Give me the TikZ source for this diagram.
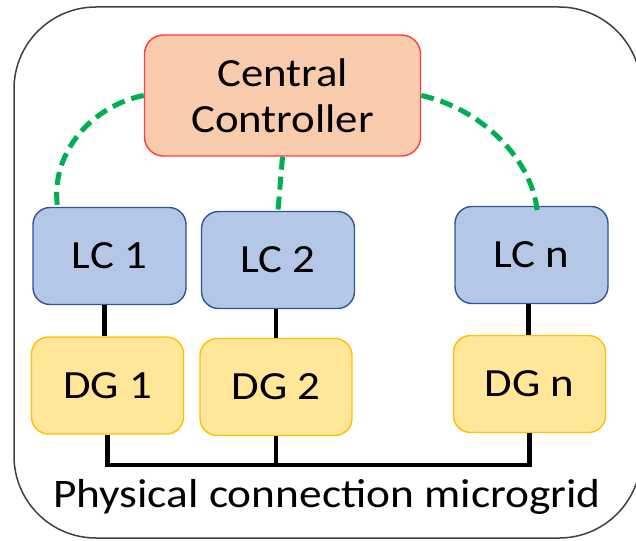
\documentclass[tikz,border=0pt]{standalone}
\usepackage{fontspec}
\setmainfont{Carlito}[FakeStretch=1.12]
\usetikzlibrary{calc}
\definecolor{ccfill}{HTML}{F8CBAD}
\definecolor{ccdraw}{HTML}{FF3B3B}
\definecolor{lcfill}{HTML}{B4C7E7}
\definecolor{lcdraw}{HTML}{2F5597}
\definecolor{dgfill}{HTML}{FFE699}
\definecolor{dgdraw}{HTML}{FFC000}
\definecolor{commgreen}{HTML}{00B050}
\begin{document}
\begin{tikzpicture}[x=1pt,y=-1pt,
  box/.style={rounded corners=17pt,line width=1.4pt,inner sep=0pt,align=center,
    font=\fontsize{40}{46}\selectfont},
  ccbox/.style={box,fill=ccfill,draw=ccdraw,minimum width=276pt,minimum height=121pt,rounded corners=19pt},
  lcbox/.style={box,fill=lcfill,draw=lcdraw,minimum width=153pt,minimum height=97pt},
  dgbox/.style={box,fill=dgfill,draw=dgdraw,minimum width=152pt,minimum height=97pt},
  comm/.style={draw=commgreen,line width=5pt,dash pattern=on 13pt off 7pt},
  wire/.style={draw=black,line width=4.5pt},
  frame/.style={draw=black!75,line width=1.5pt,rounded corners=82pt}]
\useasboundingbox (0,0) rectangle (636,540);
\draw[frame] (14,7) rectangle (641,538);
\node[ccbox] (cc) at (282.5,95.5) {Central\\Controller};
\node[lcbox] (lc1) at (109.5,256) {LC 1};
\node[lcbox] (lc2) at (278,260) {LC 2};
\node[lcbox] (lcn) at (531.5,255) {LC n};
\node[dgbox] (dg1) at (107.5,385.5) {DG 1};
\node[dgbox] (dg2) at (276,387) {DG 2};
\node[dgbox] (dgn) at (529.5,384) {DG n};
\node[font=\fontsize{40.5}{46}\selectfont] (label) at (327,497) {Physical connection microgrid};
\coordinate (lc1top) at ($(lc1.north)+(-52,0)$);
\coordinate (lcntop) at ($(lcn.north)+(6,10)$);
\draw[comm] (cc.west) .. controls (95,105) and (50,150) .. (lc1top);
\draw[comm] (cc.south) -- (lc2.north);
\draw[comm] (cc.east) .. controls (480,108) and (535,160) .. (lcntop);
\draw[wire] ($(lc1.south)+(-5,0)$) -- ($(dg1.north)+(-3,0)$);
\draw[wire] ($(lc2.south)+(-2,0)$) -- (dg2.north);
\draw[wire] ($(lcn.south)+(-3,0)$) -- ($(dgn.north)+(-1,0)$);
\coordinate (busy) at (0,465);
\draw[wire,line join=miter] (dg1.south) -- (dg1.south |- busy) -- (dgn.south |- busy) -- (dgn.south);
\draw[wire] (dg2.south) -- (dg2.south |- busy);
\end{tikzpicture}
\end{document}
